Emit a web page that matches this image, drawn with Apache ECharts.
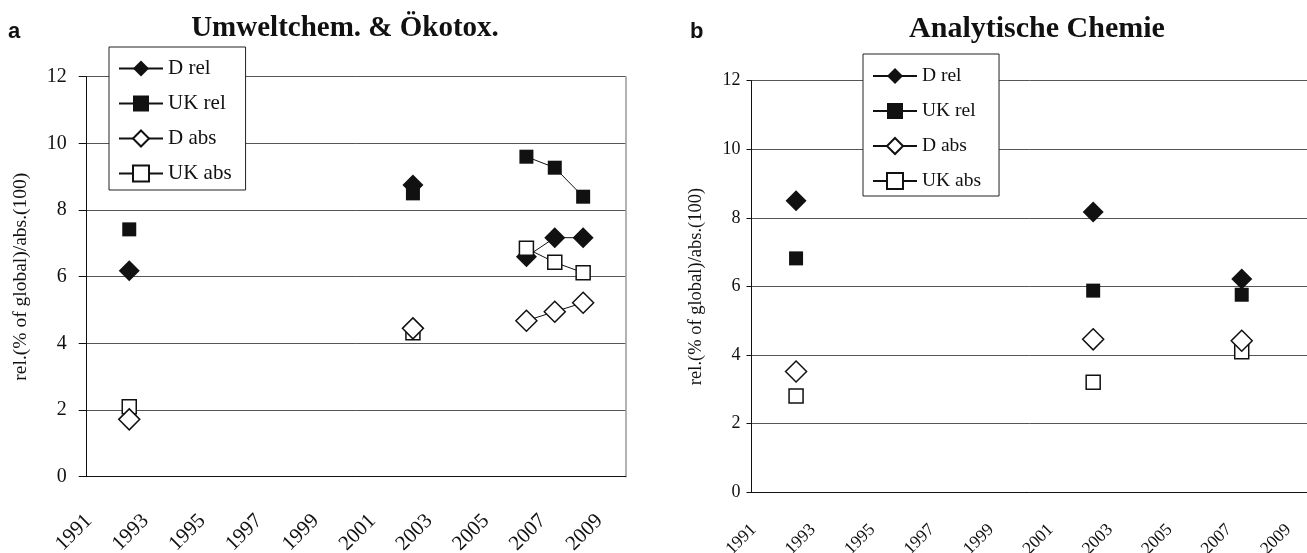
<!DOCTYPE html>
<html>
<head>
<meta charset="utf-8">
<script src="https://cdn.jsdelivr.net/npm/echarts@6/dist/echarts.min.js"></script>
<style>
	html, body { margin: 0; padding: 0; background: #fff; }
	#chart { width: 1307px; height: 553px; }
</style>
</head>
<body>
<div id="chart"></div>
<script>
// Kategorien der x-Achse (Jahre)
const jahre = ['1991', '1992', '1993', '1994', '1995', '1996', '1997', '1998', '1999', '2000',
	'2001', '2002', '2003', '2004', '2005', '2006', '2007', '2008', '2009'];

const serienNamen = ['D rel', 'UK rel', 'D abs', 'UK abs'];

// a: Umweltchem. & Ökotox.
const jahreA = ['1992', '2002', '2006', '2007', '2008'];
const aDRel = [6.18, 8.75, 6.6, 7.17, 7.17];
const aUKRel = [7.42, 8.5, 9.6, 9.27, 8.4];
const aDAbs = [1.72, 4.45, 4.68, 4.95, 5.22];
const aUKAbs = [2.1, 4.32, 6.85, 6.43, 6.12];

// b: Analytische Chemie
const jahreB = ['1992', '2002', '2007'];
const bDRel = [8.5, 8.17, 6.22];
const bUKRel = [6.82, 5.88, 5.76];
const bDAbs = [3.52, 4.46, 4.42];
const bUKAbs = [2.81, 3.21, 4.1];

const serif = "'Liberation Serif', 'Times New Roman', serif";
const sans = "'Liberation Sans', Arial, sans-serif";

// Werte auf alle Jahre verteilen, Lücken bleiben null
function aufJahre(jahreX, werte) {
	return jahre.map(j => {
		const i = jahreX.indexOf(j);
		return i < 0 ? null : werte[i];
	});
}

const symbole = {
	'D rel': { symbol: 'diamond', symbolSize: 21, itemStyle: { color: '#111', borderWidth: 0 } },
	'UK rel': { symbol: 'rect', symbolSize: 14, itemStyle: { color: '#111', borderWidth: 0 } },
	'D abs': { symbol: 'diamond', symbolSize: 21, itemStyle: { color: '#fff', borderColor: '#111', borderWidth: 1.5 } },
	'UK abs': { symbol: 'rect', symbolSize: 14, itemStyle: { color: '#fff', borderColor: '#111', borderWidth: 1.5 } }
};

function serie(name, idx, daten) {
	return Object.assign({
		name: name,
		type: 'line',
		xAxisIndex: idx,
		yAxisIndex: idx,
		data: daten,
		connectNulls: false,
		showAllSymbol: true,
		lineStyle: { color: '#111', width: 1 },
		emphasis: { disabled: true }
	}, symbole[name]);
}

function xAchse(idx, fs, margin, verschub) {
	return {
		type: 'category',
		gridIndex: idx,
		data: jahre,
		boundaryGap: true,
		axisLine: { lineStyle: { color: '#111', width: 1 } },
		axisTick: { interval: 0, length: 6, lineStyle: { color: '#111' } },
		axisLabel: {
			interval: 1, rotate: 45, margin: margin,
			padding: [0, verschub, 0, 0],
			color: '#111', fontFamily: serif, fontSize: fs
		},
		splitLine: { show: false }
	};
}

function yAchse(idx, fs, margin, tick, nameFs, nameGap) {
	return {
		type: 'value',
		gridIndex: idx,
		min: 0, max: 12, interval: 2,
		name: 'rel.(% of global)/abs.(100)',
		nameLocation: 'middle',
		nameRotate: 90,
		nameGap: nameGap,
		nameTextStyle: { color: '#111', fontFamily: serif, fontSize: nameFs },
		axisLine: { show: true, lineStyle: { color: '#111', width: 1 } },
		axisTick: { show: true, length: tick, lineStyle: { color: '#111' } },
		axisLabel: { margin: margin, color: '#111', fontFamily: serif, fontSize: fs },
		splitLine: { show: true, lineStyle: { color: '#555', width: 1 } }
	};
}

function legende(left, top, fs, gap, padding) {
	return {
		orient: 'vertical',
		left: left, top: top,
		padding: padding,
		itemGap: gap,
		itemWidth: 44,
		itemHeight: 20,
		backgroundColor: '#fff',
		borderColor: '#222',
		borderWidth: 1,
		selectedMode: false,
		data: serienNamen,
		textStyle: { color: '#111', fontFamily: serif, fontSize: fs }
	};
}

const chart = echarts.init(document.getElementById('chart'), null, { renderer: 'canvas' });

const option = {
	animation: false,
	backgroundColor: '#fff',
	title: [
		{ text: 'a', left: 8, top: 21, padding: 0, textStyle: { fontFamily: sans, fontWeight: 'bold', fontSize: 22, color: '#111' } },
		{ text: 'Umweltchem. & Ökotox.', left: 345, textAlign: 'center', top: 14, padding: 0,
			textStyle: { fontFamily: serif, fontWeight: 'bold', fontSize: 29, color: '#111' } },
		{ text: 'b', left: 690, top: 21, padding: 0, textStyle: { fontFamily: sans, fontWeight: 'bold', fontSize: 22, color: '#111' } },
		{ text: 'Analytische Chemie', left: 1037, textAlign: 'center', top: 14, padding: 0,
			textStyle: { fontFamily: serif, fontWeight: 'bold', fontSize: 30, color: '#111' } }
	],
	legend: [
		legende(109, 47, 21, 14, [11, 14, 6, 9]),
		legende(863, 54, 19.5, 15, [12, 18, 5, 9])
	],
	grid: [
		{ left: 86.7, right: 681.3, top: 76.7, bottom: 76.3, containLabel: false, outerBoundsMode: 'none' },
		{ left: 751.5, right: -9, top: 80.7, bottom: 60.7, containLabel: false, outerBoundsMode: 'none' }
	],
	xAxis: [
		xAchse(0, 21, 29, 17),
		xAchse(1, 17.5, 22, 18)
	],
	yAxis: [
		yAchse(0, 20, 20, 8, 19.5, 56),
		yAchse(1, 18, 11, 5, 18.5, 46),
		// rechter Rahmen im Diagramm a
		{
			type: 'value', gridIndex: 0, position: 'right', min: 0, max: 12, interval: 2,
			axisLine: { show: true, lineStyle: { color: '#999', width: 1.5 } },
			axisTick: { show: false }, axisLabel: { show: false }, splitLine: { show: false }
		}
	],
	series: [
		serie('D rel', 0, aufJahre(jahreA, aDRel)),
		serie('UK rel', 0, aufJahre(jahreA, aUKRel)),
		serie('UK abs', 0, aufJahre(jahreA, aUKAbs)),
		serie('D abs', 0, aufJahre(jahreA, aDAbs)),
		serie('D rel', 1, aufJahre(jahreB, bDRel)),
		serie('UK rel', 1, aufJahre(jahreB, bUKRel)),
		serie('UK abs', 1, aufJahre(jahreB, bUKAbs)),
		serie('D abs', 1, aufJahre(jahreB, bDAbs))
	]
};

// D rel über UK abs zeichnen wie im Original
option.series.forEach(s => { if (s.name === 'D rel') s.z = 3; });

chart.setOption(option);
</script>
</body>
</html>
